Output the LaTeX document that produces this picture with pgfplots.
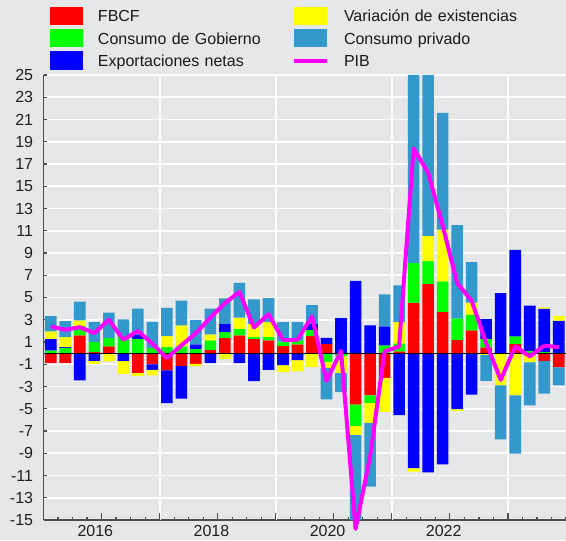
\documentclass[border=0pt]{standalone}
\usepackage{fontspec}
\setmainfont{Liberation Sans}
\usepackage{pgfplots}
\pgfplotsset{compat=1.18}
\usepackage{pgfplotstable}
\usetikzlibrary{backgrounds,calc}
\definecolor{bg}{HTML}{E6E7E9}
\definecolor{cfbcf}{HTML}{FF0000}
\definecolor{cgob}{HTML}{00FF00}
\definecolor{cexp}{HTML}{0000FF}
\definecolor{cvar}{HTML}{FFFF00}
\definecolor{ccp}{HTML}{3399CC}
\definecolor{cpib}{HTML}{FF00FF}
\definecolor{axg}{HTML}{4D4D4D}

% positive contributions and GDP
\pgfplotstableread{
x r g b y c pib
0 0 0.24 1.05 0.66 1.38 2.4
1 0 0.48 0.06 0.90 1.44 2.1
2 1.59 0.84 0 0.51 1.68 2.33
3 0.09 0.90 0 0 1.80 1.8
4 0.60 0.75 0 0 2.28 3.0
5 0 1.44 0 0 1.59 1.2
6 0 1.29 0.36 0 2.34 2.0
7 0 0.45 0 0 2.37 0.84
8 0 0.54 0 0.99 2.54 -0.45
9 0 0.60 0 1.89 2.22 0.7
10 0 0.39 0.39 0 2.22 1.8
11 0.30 0.84 0 0.54 2.31 3.2
12 1.38 0.51 0.75 0 2.28 4.5
13 1.59 0.60 0 0.99 3.14 5.5
14 1.29 0.15 0 1.20 2.19 2.3
15 1.14 0.30 0 1.35 2.16 3.5
16 0.66 0.39 0 0 1.73 1.2
17 0.78 0.36 0 0 1.65 1.2
18 1.53 0.57 0.54 0 1.68 3.3
19 0.84 0 0.54 0 0 -2.5
20 0 0 3.14 0 0 0.2
21 0 0 6.50 0 0 -15.8
22 0 0 2.50 0 0 -9.3
23 0 0.70 1.71 0 2.87 0.15
24 0.15 0.72 0 1.92 3.31 0.6
25 4.55 3.56 0 0 16.89 18.4
26 6.23 2.04 0 2.28 14.45 16.2
27 3.71 2.75 0 4.64 10.50 11.5
28 1.17 1.95 0 0 8.38 6.3
29 2.04 1.41 0 1.10 3.62 4.7
30 0.51 0.78 1.77 0 0 0.9
31 0 0 5.39 0 0 -2.4
32 0.84 0.66 7.78 0 0 0.6
33 0 0.20 4.07 0 0 -0.3
34 0 0.10 3.90 0.12 0 0.66
35 0 0 2.93 0.42 0 0.54
}\post

% negative contributions
\pgfplotstableread{
x r g b y c
0 -0.90 0 0 0 0
1 -0.90 0 0 0 0
2 0 0 -2.46 0 0
3 0 0 -0.72 -0.24 0
4 0 0 0 -0.75 0
5 0 0 -0.72 -1.14 0
6 -1.80 0 0 -0.24 0
7 -1.02 0 -0.48 -0.51 0
8 -1.56 0 -2.93 0 0
9 -1.17 0 -2.93 0 0
10 -0.96 0 0 -0.21 0
11 0 0 -0.90 0 0
12 0 0 0 -0.51 0
13 0 0 -0.90 0 0
14 0 0 -2.51 0 0
15 0 0 -1.50 0 0
16 0 0 -1.10 -0.60 0
17 0 0 -0.66 -0.99 0
18 0 0 0 -1.26 0
19 0 -0.81 0 -0.51 -2.84
20 0 -0.30 0 -1.50 -1.70
21 -4.62 -1.92 0 -0.84 -7.62
22 -3.80 -0.69 0 -1.77 -5.74
23 -2.22 0 0 -3.06 0
24 0 0 -5.57 0 0
25 0 0 -10.36 -0.30 0
26 0 0 -10.72 0 0
27 0 0 -10.00 0 0
28 0 0 -5.06 -0.12 0
29 0 0 -3.74 0 0
30 0 0 0 -0.15 -2.34
31 0 0 0 -2.90 -4.85
32 0 0 0 -3.80 -5.24
33 0 0 0 -0.84 -3.86
34 -0.69 0 0 0 -2.96
35 -1.29 0 0 0 -1.62
}\negt

\pgfplotsset{
  base/.style={
    width=261.25pt, height=222.5pt, scale only axis,
    xmin=-0.5, xmax=35.5, ymin=-15, ymax=25,
    ybar stacked, bar width=5.8pt,
    reverse stacked plots=false,
    tick label style={font=\fontsize{8}{9.6}\selectfont, text=black!88},
    /pgf/number format/assume math mode=true,
  },
  sq/.style={legend image code/.code={\fill[#1] (0pt,-4.6pt) rectangle (16.5pt,4.6pt);}},
  ln/.style={legend image code/.code={\draw[#1] (0pt,0pt) -- (16.5pt,0pt);}},
}

\begin{document}
\begin{tikzpicture}
% negative stack, grid and axes
\begin{axis}[base, name=ax,
  axis x line*=bottom, axis y line*=left,
  axis line style={draw=axg, line width=0.7pt},
  ytick={-15,-13,...,25},
  ytick style={draw=none},
  yticklabel style={inner sep=0pt, xshift=-5pt},
  ymajorgrids,
  major grid style={white, line width=0.9pt},
  xtick={3.5,7.5,...,31.5},
  xticklabels={2016,,2018,,2020,,2022,},
  xticklabel style={inner sep=0pt, yshift=-2.5pt, xshift=-3.1pt},
  minor xtick={-0.5,0.5,...,35.5},
  extra x ticks={7.5,15.5,23.5,31.5},
  extra x tick labels={,,,},
  extra x tick style={grid=major},
  tick align=inside,
  major tick length=3.5pt, minor tick length=1.75pt,
  xtick style={draw=axg, line width=0.6pt},
]
\addplot[fill=cfbcf, draw=none] table[x=x,y=r]{\negt};
\addplot[fill=cgob, draw=none] table[x=x,y=g]{\negt};
\addplot[fill=cexp, draw=none] table[x=x,y=b]{\negt};
\addplot[fill=cvar, draw=none] table[x=x,y=y]{\negt};
\addplot[fill=ccp, draw=none] table[x=x,y=c]{\negt};
\end{axis}
% positive stack, GDP, legend
\begin{axis}[base, clip=false,
  axis x line=none, axis y line*=left,
  axis line style={draw=axg, line width=0.7pt},
  ytick={-15,-13,...,25}, yticklabels={},
  tick align=inside, major tick length=1.65pt,
  ytick style={draw=axg, line width=0.6pt},
  legend columns=3, transpose legend,
  legend style={at={(0.01244,1.1535)}, anchor=north west,
    draw=none, fill=none, inner sep=0pt, outer sep=0pt,
    row sep=2pt, column sep=7.5pt,
    nodes={inner sep=0pt, anchor=west, text width=89.5pt, align=left,
      text height=5.75pt, text depth=0pt,
      font=\fontsize{8}{9.6}\selectfont, text=black!90}},
  legend cell align=left,
]
\addplot[fill=cfbcf, draw=none, sq] table[x=x,y=r]{\post};
\addlegendentry{FBCF}
\addplot[fill=cgob, draw=none, sq] table[x=x,y=g]{\post};
\addlegendentry{Consumo de Gobierno}
\addplot[fill=cexp, draw=none, sq] table[x=x,y=b]{\post};
\addlegendentry{Exportaciones netas}
\addplot[fill=cvar, draw=none, sq] table[x=x,y=y]{\post};
\addlegendentry{Variación de existencias}
\addplot[fill=ccp, draw=none, sq] table[x=x,y=c]{\post};
\addlegendentry{Consumo privado}
\addplot[sharp plot, stack plots=false, black, line width=0.6pt, forget plot] coordinates {(-0.5,0) (35.5,0)};
\addplot[sharp plot, stack plots=false, cpib, line width=2pt, line join=round, ln] table[x=x,y=pib]{\post};
\addlegendentry{PIB}
\end{axis}
\begin{scope}[on background layer]
\fill[bg] ($(ax.south west)+(-21.75pt,-10pt)$) rectangle ($(ax.north east)+(0pt,37.5pt)$);
\end{scope}
\pgfresetboundingbox
\path[use as bounding box] ($(ax.south west)+(-21.75pt,-10pt)$) rectangle ($(ax.north east)+(0pt,37.5pt)$);
\end{tikzpicture}
\end{document}
